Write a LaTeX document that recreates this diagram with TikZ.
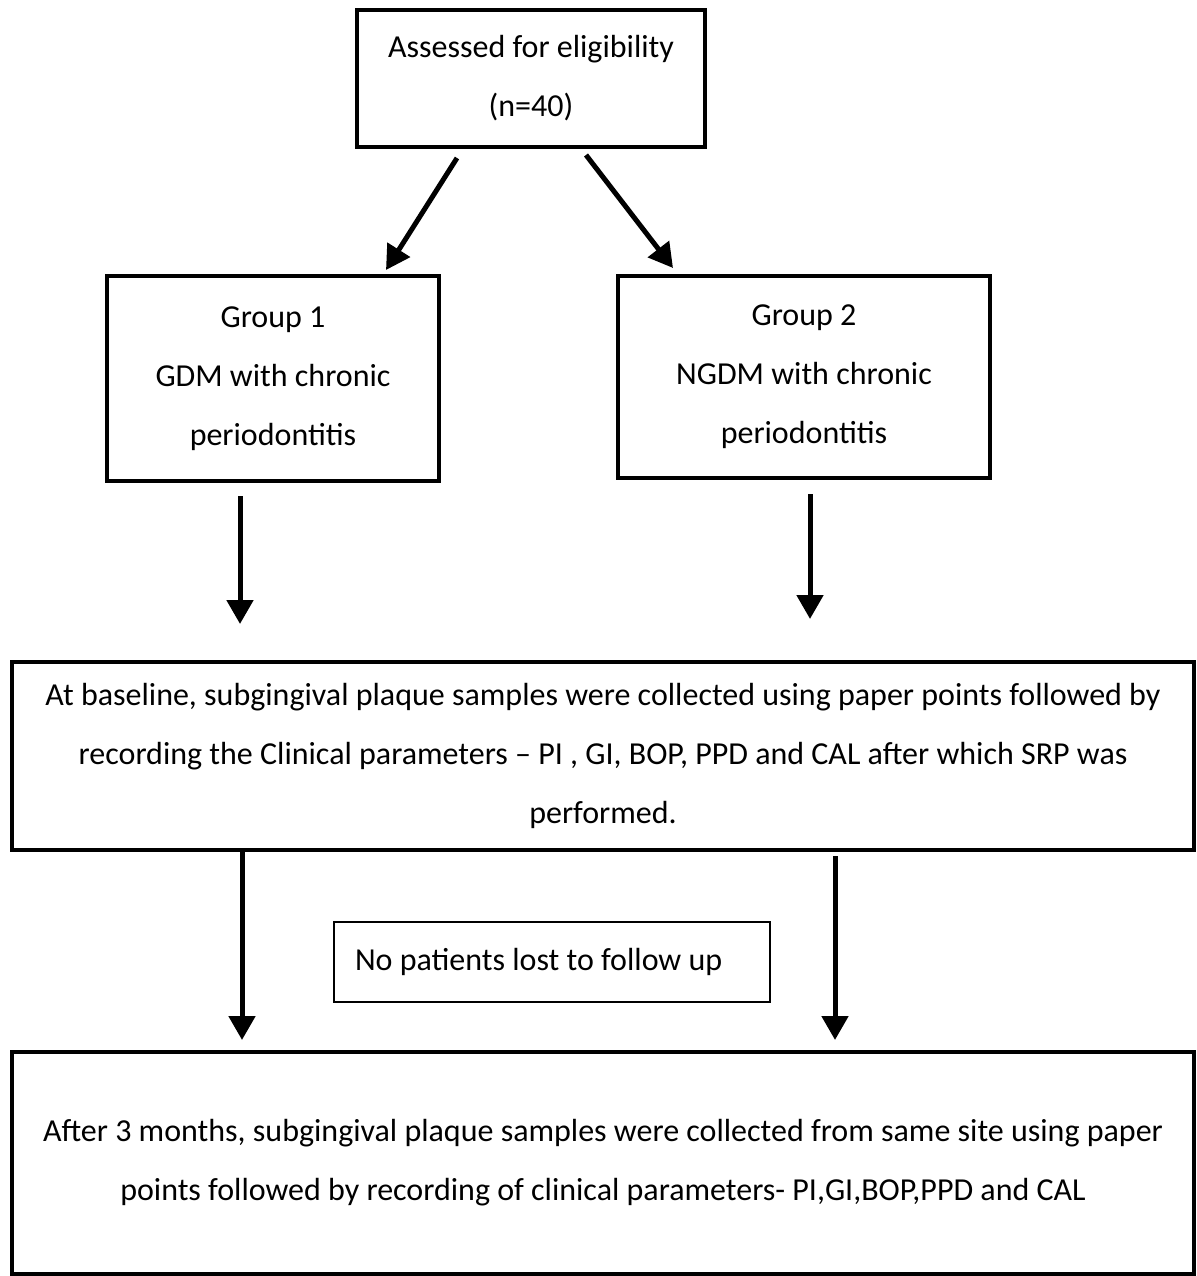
\documentclass[tikz,border=0pt]{standalone}
\usepackage{fontspec}
\setmainfont{Carlito}
\usetikzlibrary{arrows.meta}
\begin{document}
\begin{tikzpicture}[x=1pt,y=-1pt,
  box/.style={draw,line width=3.5pt,align=center,inner sep=0pt,font=\fontsize{32}{59}\selectfont},
  thinbox/.style={draw,line width=2pt,inner sep=0pt,font=\fontsize{32}{59}\selectfont},
  arr/.style={line width=5pt,-{Triangle[length=24pt,width=26pt]}}]
\useasboundingbox (0,0) rectangle (1196,1276);
\node[box,minimum width=348pt,minimum height=137pt] (top) at (531,78.5) {Assessed for eligibility\\(n=40)};
\node[box,minimum width=332pt,minimum height=205pt] (g1) at (273,378.5) {Group 1\\GDM with chronic\\periodontitis};
\node[box,minimum width=372pt,minimum height=202pt] (g2) at (804,377) {Group 2\\NGDM with chronic\\periodontitis};
\node[box,minimum width=1182pt,minimum height=188pt] (base) at (603,756) {At baseline, subgingival plaque samples were collected using paper points followed by\\recording the Clinical parameters -- PI , GI, BOP, PPD and CAL after which SRP was\\performed.};
\node[thinbox,minimum width=436pt,minimum height=80pt] (lost) at (552,962) {\makebox[394pt][l]{No patients lost to follow up}};
\node[box,minimum width=1182pt,minimum height=222pt] (after) at (603,1163) {After 3 months, subgingival plaque samples were collected from same site using paper\\points followed by recording of clinical parameters- PI,GI,BOP,PPD and CAL};
\coordinate (a1s) at (457,158); \coordinate (a1e) at (386,270);
\coordinate (a2s) at (586,155); \coordinate (a2e) at (673,268);
\coordinate (a3s) at (240,496); \coordinate (a3e) at (240,624);
\coordinate (a4s) at (810,494); \coordinate (a4e) at (810,619);
\coordinate (a5s) at (242,851); \coordinate (a5e) at (242,1040);
\coordinate (a6s) at (835,856); \coordinate (a6e) at (835,1040);
\draw[arr] (a1s) -- (a1e);
\draw[arr] (a2s) -- (a2e);
\draw[arr] (a3s) -- (a3e);
\draw[arr] (a4s) -- (a4e);
\draw[arr] (a5s) -- (a5e);
\draw[arr] (a6s) -- (a6e);
\end{tikzpicture}
\end{document}
